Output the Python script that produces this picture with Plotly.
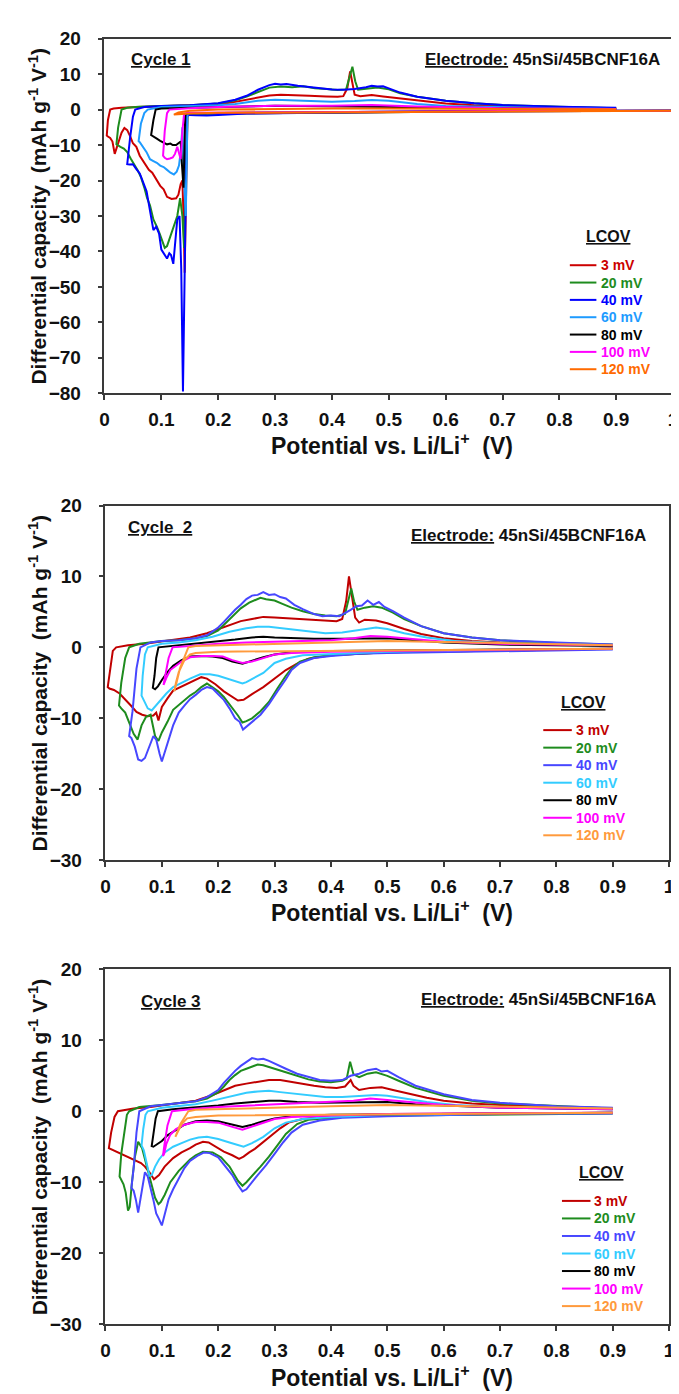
import plotly.graph_objects as go

W, H = 679, 1394

# ---------------- labels / styling lists ----------------
lcov_labels = ["3 mV", "20 mV", "40 mV", "60 mV", "80 mV", "100 mV", "120 mV"]
colors_c1 = ["#CC0000", "#1E8C1E", "#0000FF", "#1E9BFF", "#000000", "#FF00FF", "#FF6A00"]
colors_c23 = ["#C00000", "#1E8C1E", "#4747FF", "#33CCFF", "#000000", "#FF00FF", "#FF9A3C"]
x_tick_vals = [0, 0.1, 0.2, 0.3, 0.4, 0.5, 0.6, 0.7, 0.8, 0.9, 1.0]
x_tick_text = ["0", "0.1", "0.2", "0.3", "0.4", "0.5", "0.6", "0.7", "0.8", "0.9", "1"]
y_ticks_c1 = [-80, -70, -60, -50, -40, -30, -20, -10, 0, 10, 20]
y_ticks_c23 = [-30, -20, -10, 0, 10, 20]

# ---------------- Cycle 1 data (V, dQ/dV) ----------------
c1_3 = [(1.0,-0.3),(0.9,-0.3),(0.8,-0.4),(0.7,-0.5),(0.6,-0.6),(0.5,-0.7),(0.4,-0.8),(0.3,-0.9),(0.25,-1.0),(0.2,-1.1),(0.16,-1.2),
        (0.146,-1.3),(0.143,-32),(0.141,-46),(0.139,-30),(0.137,-20),(0.134,-21),(0.13,-24),(0.126,-25),(0.118,-25.2),(0.11,-24.6),
        (0.104,-22.5),(0.098,-21.5),(0.09,-19.4),(0.084,-17.8),(0.078,-17),(0.07,-14.8),(0.062,-13),(0.056,-10.5),(0.05,-9.5),
        (0.045,-7.5),(0.04,-5.8),(0.035,-5.2),(0.03,-6.5),(0.026,-8.5),(0.022,-10.8),(0.018,-12.5),(0.014,-9),(0.01,-8),(0.006,-7.6),(0.004,-7.3),
        (0.006,-3),(0.01,0),(0.016,0.3),(0.03,0.5),(0.06,0.7),(0.1,0.9),(0.15,1.1),(0.2,1.5),(0.22,1.9),(0.25,2.8),(0.27,3.5),(0.29,4.0),
        (0.31,4.2),(0.33,4.0),(0.36,3.9),(0.39,3.7),(0.41,3.6),(0.42,3.8),(0.427,6),(0.432,10.8),(0.436,7),(0.44,4.2),(0.45,3.8),(0.47,4.1),
        (0.49,3.7),(0.52,3.2),(0.55,2.5),(0.6,1.7),(0.65,1.2),(0.7,0.9),(0.8,0.5),(0.9,0.3)]
c1_20 = [(1.0,-0.3),(0.9,-0.3),(0.8,-0.4),(0.7,-0.5),(0.6,-0.6),(0.5,-0.7),(0.4,-0.8),(0.3,-0.9),(0.25,-1.0),(0.2,-1.1),(0.16,-1.2),
         (0.146,-1.2),(0.143,-20),(0.14,-39),(0.137,-30),(0.133,-25),(0.128,-30),(0.122,-33),(0.116,-36),(0.11,-38.5),(0.106,-39),
         (0.102,-37),(0.097,-35),(0.092,-33),(0.086,-31),(0.08,-27),(0.075,-25),(0.07,-22),(0.064,-19),(0.058,-17),(0.052,-15.5),
         (0.046,-13.8),(0.04,-12),(0.034,-11),(0.028,-10.5),(0.024,-10.2),(0.021,-9.8),
         (0.024,-5),(0.03,0),(0.04,0.5),(0.06,0.8),(0.1,1.0),(0.15,1.2),(0.2,1.7),(0.23,2.6),(0.25,3.7),(0.27,5.0),(0.29,6.2),(0.31,6.5),
         (0.33,6.3),(0.35,6.6),(0.37,6.0),(0.39,5.8),(0.41,5.5),(0.425,5.7),(0.431,9),(0.436,12.1),(0.441,8),(0.446,5.6),(0.46,5.9),
         (0.48,6.2),(0.5,5.7),(0.52,4.6),(0.55,3.6),(0.6,2.5),(0.65,1.8),(0.7,1.3),(0.8,0.8),(0.9,0.4)]
c1_40 = [(1.0,-0.3),(0.9,-0.3),(0.7,-0.5),(0.5,-0.7),(0.4,-0.8),(0.3,-0.9),(0.25,-1.1),(0.2,-1.5),(0.18,-1.7),(0.16,-1.6),(0.15,-1.5),
         (0.145,-1.8),(0.141,-40),(0.138,-79.5),(0.135,-45),(0.132,-30),(0.128,-31),(0.124,-38),(0.121,-43.5),(0.117,-41),(0.114,-40.5),
         (0.11,-42),(0.106,-41),(0.1,-39.5),(0.096,-35),(0.091,-33),(0.086,-34),(0.082,-30),(0.078,-27),(0.074,-23),(0.068,-20.5),
         (0.062,-18),(0.056,-16.8),(0.05,-15.4),(0.044,-15.5),(0.04,-15.4),
         (0.045,-8),(0.05,-2),(0.054,0),(0.07,0.7),(0.1,1.0),(0.15,1.2),(0.2,1.8),(0.23,2.8),(0.25,3.9),(0.27,5.6),(0.29,6.9),(0.3,7.3),
         (0.31,7.1),(0.32,7.2),(0.34,6.7),(0.36,6.3),(0.38,6.1),(0.4,5.7),(0.42,5.6),(0.44,5.8),(0.46,6.3),(0.47,6.7),(0.48,6.5),(0.49,6.6),
         (0.5,6.0),(0.52,4.8),(0.55,3.6),(0.6,2.5),(0.65,1.8),(0.7,1.3),(0.8,0.8),(0.9,0.5)]
c1_60 = [(1.0,-0.3),(0.9,-0.3),(0.7,-0.4),(0.5,-0.6),(0.3,-0.8),(0.2,-0.9),(0.16,-1.0),(0.146,-1.0),(0.143,-30),(0.14,-20),(0.137,-5),
         (0.134,-12),(0.131,-15.8),(0.127,-17.5),(0.122,-18.3),(0.116,-17.8),(0.11,-17),(0.104,-16.2),(0.098,-15.8),(0.092,-15),
         (0.086,-14.5),(0.08,-14),(0.074,-12),(0.068,-10.5),(0.062,-9.2),(0.06,-8.9),
         (0.064,-4),(0.07,-1),(0.076,0),(0.1,0.7),(0.15,0.9),(0.2,1.2),(0.23,1.6),(0.25,2.1),(0.27,2.5),(0.3,2.8),(0.33,2.6),(0.36,2.4),
         (0.4,2.2),(0.44,2.4),(0.47,2.7),(0.5,2.5),(0.55,1.6),(0.6,1.0),(0.7,0.6),(0.8,0.4),(0.9,0.2)]
c1_80 = [(1.0,-0.3),(0.9,-0.3),(0.7,-0.4),(0.5,-0.6),(0.3,-0.8),(0.2,-0.9),(0.16,-1.0),(0.146,-1.0),(0.142,-1.5),(0.139,-22),
         (0.136,-15),(0.134,-9),(0.13,-9.5),(0.126,-10),(0.12,-10),(0.116,-9.6),(0.11,-9.8),(0.104,-9.4),(0.098,-8.8),(0.092,-8.2),
         (0.086,-7.6),(0.082,-7.2),
         (0.086,-3),(0.09,0),(0.1,0.3),(0.15,0.5),(0.2,0.7),(0.25,0.9),(0.3,1.1),(0.35,1.0),(0.4,0.9),(0.45,1.0),(0.5,0.9),(0.6,0.5),
         (0.7,0.3),(0.9,0.1)]
c1_100 = [(1.0,-0.3),(0.9,-0.3),(0.7,-0.4),(0.5,-0.6),(0.3,-0.7),(0.2,-0.8),(0.16,-0.9),(0.146,-0.9),(0.14,-1.2),(0.137,-6),
          (0.134,-14),(0.131,-12),(0.128,-10.5),(0.124,-12.5),(0.12,-13.5),(0.115,-13.8),(0.11,-14),(0.106,-13.6),(0.103,-13),
          (0.106,-6),(0.11,-1),(0.114,0),(0.15,0.4),(0.2,0.7),(0.25,0.9),(0.3,1.1),(0.4,1.1),(0.47,1.3),(0.55,0.9),(0.7,0.4),(0.9,0.2)]
c1_120 = [(1.0,-0.3),(0.8,-0.4),(0.6,-0.5),(0.4,-0.6),(0.3,-0.7),(0.2,-0.9),(0.15,-1.1),(0.13,-1.3),(0.122,-1.4),
          (0.13,-0.8),(0.15,-0.3),(0.2,0),(0.3,0.2),(0.4,0.3),(0.5,0.3),(0.7,0.2),(0.9,0.1)]

# ---------------- Cycle 2 data ----------------
c2_3 = [(0.9,-0.2),(0.8,-0.3),(0.7,-0.4),(0.6,-0.5),(0.5,-0.7),(0.45,-0.9),(0.4,-1.1),(0.36,-1.6),(0.34,-2.3),(0.32,-3.2),(0.3,-4.4),
        (0.28,-5.6),(0.26,-6.6),(0.245,-7.4),(0.235,-7.5),(0.225,-7.0),(0.21,-6.2),(0.195,-5.2),(0.18,-4.4),(0.17,-4.2),(0.16,-4.6),
        (0.145,-5.2),(0.13,-5.8),(0.12,-6.1),(0.11,-7.2),(0.1,-8.4),(0.094,-10.3),(0.09,-9.2),(0.085,-9.6),(0.075,-9.7),(0.065,-9.5),
        (0.055,-9.1),(0.045,-8.2),(0.035,-7.3),(0.025,-6.5),(0.015,-6),(0.007,-5.8),(0.004,-5.6),
        (0.008,-3),(0.013,-0.5),(0.019,0),(0.04,0.3),(0.07,0.5),(0.1,0.8),(0.13,1.1),(0.15,1.4),(0.18,2.0),(0.2,2.6),(0.22,3.2),(0.24,3.7),
        (0.26,4.0),(0.28,4.3),(0.3,4.2),(0.32,4.1),(0.34,4.0),(0.37,3.8),(0.39,3.7),(0.41,3.7),(0.42,4.0),(0.427,6.5),(0.432,10.0),
        (0.437,7),(0.443,4.2),(0.45,3.5),(0.46,3.9),(0.48,3.8),(0.5,3.4),(0.53,2.6),(0.56,1.9),(0.6,1.3),(0.65,0.9),(0.7,0.7),(0.8,0.5),(0.9,0.3)]
c2_20 = [(0.9,-0.2),(0.8,-0.3),(0.7,-0.4),(0.6,-0.5),(0.5,-0.7),(0.45,-0.9),(0.4,-1.1),(0.37,-1.4),(0.345,-2.0),(0.33,-3.0),(0.32,-4.0),
         (0.305,-5.8),(0.29,-7.7),(0.275,-9.0),(0.26,-10.0),(0.25,-10.4),(0.243,-10.6),(0.235,-9.6),(0.225,-8.6),(0.21,-7.0),(0.2,-6.2),
         (0.19,-5.6),(0.18,-5.1),(0.17,-5.6),(0.16,-6.3),(0.15,-6.8),(0.135,-7.8),(0.12,-8.8),(0.11,-10.5),(0.1,-12),(0.094,-13.2),
         (0.088,-12.5),(0.08,-9.5),(0.072,-9.8),(0.064,-11),(0.057,-13),(0.05,-12.2),(0.042,-10.5),(0.035,-9.2),(0.028,-8.6),(0.024,-8.2),
         (0.028,-5),(0.035,-1.5),(0.042,0),(0.06,0.5),(0.1,0.9),(0.13,1.0),(0.16,1.3),(0.18,1.6),(0.2,2.4),(0.21,3.2),(0.22,4.0),(0.23,4.8),
         (0.24,5.5),(0.255,6.3),(0.265,6.7),(0.275,7.0),(0.285,6.8),(0.3,6.6),(0.315,6.1),(0.33,5.6),(0.35,5.1),(0.37,4.7),(0.39,4.5),
         (0.41,4.4),(0.425,4.7),(0.431,6.5),(0.436,8.3),(0.441,6.5),(0.447,5.3),(0.46,5.6),(0.475,5.8),(0.49,5.6),(0.51,4.9),(0.53,4.0),
         (0.56,3.0),(0.6,2.0),(0.65,1.4),(0.7,1.0),(0.8,0.6),(0.9,0.4)]
c2_40 = [(0.9,-0.3),(0.8,-0.4),(0.7,-0.5),(0.6,-0.6),(0.5,-0.8),(0.45,-0.9),(0.4,-1.2),(0.37,-1.5),(0.345,-2.2),(0.33,-3.2),(0.32,-4.5),
         (0.305,-6.2),(0.29,-8.0),(0.275,-9.5),(0.26,-10.5),(0.25,-11.2),(0.244,-11.6),(0.238,-10.5),(0.23,-10.0),(0.22,-8.6),(0.21,-7.4),
         (0.2,-6.6),(0.19,-5.8),(0.18,-5.6),(0.17,-6.0),(0.16,-6.7),(0.15,-7.3),(0.14,-8.2),(0.13,-9.2),(0.12,-11),(0.11,-13.5),
         (0.104,-15),(0.1,-16.1),(0.096,-15),(0.09,-13),(0.085,-12.5),(0.078,-14),(0.07,-15.6),(0.064,-16),(0.058,-15.8),(0.052,-14),
         (0.046,-12.8),(0.042,-12.5),
         (0.048,-9),(0.055,-3),(0.062,0),(0.08,0.7),(0.1,0.9),(0.13,1.0),(0.16,1.3),(0.18,1.7),(0.2,2.8),(0.21,3.6),(0.22,4.5),(0.23,5.3),
         (0.24,6.0),(0.25,6.8),(0.26,7.3),(0.27,7.4),(0.28,7.8),(0.29,7.4),(0.3,7.5),(0.31,7.1),(0.32,6.9),(0.335,6.0),(0.35,5.4),(0.37,4.7),
         (0.385,4.4),(0.4,4.5),(0.415,4.4),(0.425,4.8),(0.435,5.3),(0.445,5.8),(0.455,5.9),(0.465,6.6),(0.475,6.0),(0.485,6.4),(0.495,5.7),
         (0.51,5.1),(0.53,4.2),(0.56,3.0),(0.6,2.0),(0.65,1.4),(0.7,1.0),(0.8,0.7),(0.9,0.4)]
c2_60 = [(0.9,-0.2),(0.7,-0.3),(0.5,-0.6),(0.4,-0.9),(0.35,-1.1),(0.32,-1.6),(0.3,-2.2),(0.28,-3.6),(0.265,-4.3),(0.25,-4.9),(0.243,-5.1),
         (0.23,-4.8),(0.215,-4.4),(0.2,-4.0),(0.185,-3.8),(0.168,-3.8),(0.15,-4.4),(0.135,-5.0),(0.12,-5.6),(0.108,-6.5),(0.098,-7.4),
         (0.09,-8.2),(0.082,-8.9),(0.075,-8.6),(0.068,-7.4),(0.064,-6.8),
         (0.066,-4),(0.07,-1),(0.075,0),(0.1,0.5),(0.13,0.7),(0.16,1.0),(0.19,1.5),(0.22,2.2),(0.25,2.7),(0.27,2.9),(0.29,2.9),(0.31,2.7),
         (0.33,2.5),(0.36,2.2),(0.39,2.0),(0.42,2.1),(0.45,2.4),(0.48,2.8),(0.5,2.6),(0.53,2.0),(0.57,1.4),(0.62,0.9),(0.7,0.6),(0.8,0.4),(0.9,0.3)]
c2_80 = [(0.9,-0.2),(0.7,-0.3),(0.5,-0.4),(0.4,-0.5),(0.33,-0.7),(0.3,-1.0),(0.28,-1.4),(0.26,-1.9),(0.243,-2.3),(0.225,-2.0),(0.208,-1.5),
         (0.19,-1.3),(0.17,-1.2),(0.15,-1.3),(0.135,-1.8),(0.12,-2.6),(0.11,-3.5),(0.1,-4.6),(0.093,-5.5),(0.088,-5.9),(0.084,-5.7),
         (0.087,-4),(0.09,-1.5),(0.094,0),(0.12,0.2),(0.15,0.4),(0.2,0.8),(0.23,1.1),(0.26,1.4),(0.28,1.5),(0.3,1.4),(0.33,1.3),(0.37,1.2),
         (0.42,1.2),(0.46,1.3),(0.5,1.3),(0.55,1.0),(0.6,0.7),(0.7,0.4),(0.9,0.2)]
c2_100 = [(0.9,-0.2),(0.7,-0.3),(0.5,-0.5),(0.4,-0.6),(0.33,-0.8),(0.3,-1.0),(0.28,-1.5),(0.26,-2.0),(0.243,-2.2),(0.225,-1.8),(0.208,-1.3),
          (0.19,-1.2),(0.17,-1.2),(0.15,-1.4),(0.135,-2.0),(0.125,-2.6),(0.115,-3.2),(0.108,-4.3),(0.103,-5.3),
          (0.106,-4),(0.112,-1.5),(0.119,0),(0.15,0.2),(0.2,0.5),(0.25,0.7),(0.3,0.8),(0.35,0.8),(0.4,1.0),(0.44,1.3),(0.47,1.6),(0.5,1.5),
          (0.55,1.1),(0.6,0.8),(0.7,0.5),(0.9,0.3)]
c2_120 = [(0.9,-0.2),(0.7,-0.3),(0.5,-0.4),(0.3,-0.5),(0.2,-0.6),(0.16,-0.8),(0.15,-1.0),(0.14,-1.8),(0.13,-3.5),(0.125,-5.0),(0.122,-6.2),
          (0.126,-5),(0.132,-3),(0.14,-1.3),(0.147,0),(0.16,0.2),(0.2,0.3),(0.3,0.5),(0.4,0.7),(0.5,0.9),(0.6,0.8),(0.7,0.6),(0.9,0.3)]

# ---------------- Cycle 3 data ----------------
c3_3 = [(0.9,-0.2),(0.7,-0.3),(0.5,-0.4),(0.42,-0.6),(0.38,-0.8),(0.35,-1.1),(0.325,-1.6),(0.31,-2.4),(0.295,-3.4),(0.28,-4.4),(0.265,-5.3),
        (0.255,-5.8),(0.245,-6.4),(0.237,-6.7),(0.225,-6.2),(0.21,-5.7),(0.195,-5.0),(0.183,-4.4),(0.173,-4.3),(0.16,-4.7),(0.15,-5.2),
        (0.135,-5.8),(0.12,-6.6),(0.105,-7.8),(0.095,-9.0),(0.086,-9.6),(0.078,-8.6),(0.07,-7.8),(0.063,-7.3),(0.05,-6.8),(0.035,-6.2),
        (0.022,-5.7),(0.012,-5.4),(0.006,-5.2),
        (0.01,-3),(0.016,-0.8),(0.022,0),(0.05,0.4),(0.08,0.6),(0.1,0.8),(0.13,1.1),(0.16,1.5),(0.19,2.3),(0.21,3.0),(0.23,3.6),(0.25,3.9),
        (0.27,4.2),(0.29,4.4),(0.31,4.4),(0.33,4.1),(0.35,3.9),(0.37,3.6),(0.39,3.4),(0.41,3.3),(0.425,3.5),(0.43,3.9),(0.435,4.4),(0.44,3.6),
        (0.45,3.0),(0.47,3.3),(0.49,3.4),(0.51,3.0),(0.54,2.4),(0.57,1.9),(0.6,1.5),(0.65,1.1),(0.7,0.9),(0.8,0.6),(0.9,0.4)]
c3_20 = [(0.9,-0.3),(0.7,-0.4),(0.5,-0.6),(0.42,-0.8),(0.38,-1.0),(0.36,-1.2),(0.34,-1.8),(0.32,-3.2),(0.305,-4.8),(0.29,-6.4),(0.275,-7.8),
         (0.26,-9.2),(0.25,-10.0),(0.243,-10.5),(0.235,-9.8),(0.22,-7.8),(0.205,-6.5),(0.19,-5.8),(0.173,-5.7),(0.16,-6.2),(0.15,-6.8),
         (0.13,-8.4),(0.115,-10.0),(0.105,-11.8),(0.098,-12.8),(0.094,-13.1),(0.088,-12.2),(0.08,-9.8),(0.072,-7.2),(0.065,-5.2),
         (0.058,-4.3),(0.052,-6.5),(0.047,-10),(0.043,-13.5),(0.04,-14),(0.036,-11.5),(0.032,-10.3),(0.028,-9.6),(0.025,-9.2),
         (0.028,-6),(0.033,-3),(0.038,-0.5),(0.042,0),(0.06,0.6),(0.1,0.9),(0.13,1.1),(0.16,1.4),(0.18,1.8),(0.2,2.7),(0.21,3.5),(0.22,4.4),
         (0.23,5.1),(0.24,5.7),(0.25,6.0),(0.26,6.3),(0.27,6.6),(0.28,6.5),(0.29,6.2),(0.3,6.0),(0.32,5.5),(0.34,5.0),(0.36,4.5),(0.38,4.2),
         (0.4,4.1),(0.42,4.3),(0.428,4.6),(0.434,7.0),(0.44,5.2),(0.45,4.8),(0.465,5.3),(0.48,5.5),(0.5,5.0),(0.52,4.3),(0.55,3.3),(0.6,2.2),
         (0.65,1.5),(0.7,1.1),(0.8,0.7),(0.9,0.4)]
c3_40 = [(0.9,-0.3),(0.7,-0.4),(0.5,-0.7),(0.42,-0.9),(0.38,-1.3),(0.35,-1.9),(0.33,-3.0),(0.315,-4.4),(0.3,-6.0),(0.285,-7.6),(0.27,-9.0),
         (0.26,-10.0),(0.25,-11.0),(0.243,-11.3),(0.235,-10.4),(0.225,-9.0),(0.21,-7.4),(0.2,-6.5),(0.185,-5.9),(0.175,-5.8),(0.165,-6.2),
         (0.15,-7.0),(0.14,-8.0),(0.13,-9.4),(0.12,-11),(0.112,-12.4),(0.105,-14.5),(0.1,-16.1),(0.095,-15.2),(0.09,-14.4),(0.085,-12.5),
         (0.08,-10.8),(0.075,-9.2),(0.07,-8.6),(0.066,-10.5),(0.062,-13),(0.058,-14.3),(0.054,-12.5),(0.05,-11.2),(0.046,-10.8),
         (0.05,-8),(0.055,-3),(0.06,0),(0.08,0.7),(0.1,0.9),(0.13,1.1),(0.16,1.4),(0.18,2.0),(0.2,3.0),(0.21,4.0),(0.22,4.9),(0.23,5.7),
         (0.24,6.4),(0.25,7.0),(0.26,7.5),(0.27,7.3),(0.28,7.4),(0.29,7.1),(0.3,6.7),(0.32,6.0),(0.34,5.3),(0.36,4.8),(0.38,4.4),(0.4,4.3),
         (0.42,4.4),(0.435,5.0),(0.45,5.3),(0.465,5.8),(0.48,6.0),(0.49,5.6),(0.5,5.7),(0.52,4.8),(0.55,3.6),(0.6,2.4),(0.65,1.6),(0.7,1.2),
         (0.8,0.7),(0.9,0.5)]
c3_60 = [(0.9,-0.2),(0.7,-0.3),(0.5,-0.5),(0.4,-0.8),(0.35,-1.1),(0.32,-1.6),(0.3,-2.4),(0.28,-3.6),(0.26,-4.5),(0.245,-5.0),(0.235,-4.8),
         (0.22,-4.4),(0.2,-3.9),(0.18,-3.6),(0.165,-3.7),(0.15,-4.0),(0.135,-4.5),(0.12,-5.0),(0.105,-5.8),(0.095,-6.8),(0.088,-7.8),
         (0.082,-9.0),(0.078,-9.1),(0.073,-7.5),(0.068,-5.5),(0.064,-4.8),
         (0.067,-2.5),(0.071,-0.5),(0.075,0),(0.1,0.5),(0.13,0.7),(0.16,1.0),(0.19,1.5),(0.22,2.1),(0.25,2.6),(0.27,2.8),(0.29,2.9),(0.31,2.7),
         (0.33,2.5),(0.36,2.2),(0.39,2.0),(0.42,2.0),(0.45,2.1),(0.48,2.3),(0.5,2.2),(0.53,1.8),(0.57,1.3),(0.62,0.9),(0.7,0.6),(0.8,0.4),(0.9,0.3)]
c3_80 = [(0.9,-0.2),(0.7,-0.3),(0.5,-0.4),(0.4,-0.5),(0.33,-0.7),(0.3,-1.0),(0.28,-1.4),(0.26,-1.9),(0.243,-2.2),(0.225,-1.9),(0.2,-1.4),
         (0.18,-1.3),(0.16,-1.4),(0.14,-1.9),(0.125,-2.6),(0.11,-3.4),(0.1,-4.2),(0.09,-4.8),(0.085,-5.0),(0.082,-4.9),
         (0.085,-3),(0.089,-1),(0.093,0),(0.12,0.3),(0.15,0.5),(0.2,0.8),(0.23,1.1),(0.26,1.3),(0.29,1.5),(0.31,1.5),(0.34,1.3),(0.38,1.2),
         (0.42,1.2),(0.46,1.3),(0.5,1.3),(0.55,1.0),(0.6,0.8),(0.7,0.5),(0.9,0.3)]
c3_100 = [(0.9,-0.2),(0.7,-0.3),(0.5,-0.4),(0.4,-0.6),(0.33,-0.8),(0.3,-1.1),(0.28,-1.6),(0.26,-2.2),(0.243,-2.6),(0.225,-2.2),(0.2,-1.6),
          (0.18,-1.5),(0.16,-1.5),(0.14,-1.9),(0.125,-2.5),(0.115,-3.3),(0.108,-4.6),(0.104,-6.0),(0.102,-6.3),
          (0.105,-4.5),(0.11,-2),(0.118,0),(0.15,0.3),(0.2,0.6),(0.25,0.8),(0.3,1.0),(0.35,1.1),(0.4,1.3),(0.44,1.5),(0.47,1.8),(0.5,1.6),
          (0.55,1.2),(0.6,0.9),(0.7,0.5),(0.9,0.3)]
c3_120 = [(0.9,-0.2),(0.7,-0.3),(0.5,-0.4),(0.3,-0.5),(0.2,-0.6),(0.16,-0.8),(0.145,-1.0),(0.135,-1.8),(0.128,-3.0),(0.124,-3.6),
          (0.127,-3),(0.133,-1.8),(0.14,-0.8),(0.147,0),(0.16,0.2),(0.2,0.3),(0.3,0.5),(0.4,0.7),(0.5,0.9),(0.6,0.8),(0.7,0.6),(0.9,0.4)]

cycle1 = [c1_3, c1_20, c1_40, c1_60, c1_80, c1_100, c1_120]
cycle2 = [c2_3, c2_20, c2_40, c2_60, c2_80, c2_100, c2_120]
cycle3 = [c3_3, c3_20, c3_40, c3_60, c3_80, c3_100, c3_120]

# ---------------- layout helpers (pixel -> paper) ----------------
def xp(px):
    return px / W

def yp(py):
    return 1 - py / H

FONT = "Arial, Liberation Sans, sans-serif"

panels = [
    dict(curves=cycle1, colors=colors_c1, xs="x", ys="y", xd=(93, 671), yd=(21, 381), yr=[-80, 20], yt=y_ticks_c1,
         cycle="<u>Cycle 1</u>", cyc_pos=(118, 42), elec_pos=(417, 42),
         leg_title=(605, 222), leg_y0=251, leg_dy=17.6, leg_line=(566, 593), leg_text=596,
         ytitle_y=201, xtitle_y=433),
    dict(curves=cycle2, colors=colors_c23, xs="x2", ys="y2", xd=(94, 667), yd=(495, 855), yr=[-30, 20], yt=y_ticks_c23,
         cycle="<u>Cycle&nbsp; 2</u>", cyc_pos=(115, 517), elec_pos=(403, 525),
         leg_title=(580, 695), leg_y0=723, leg_dy=17.8, leg_line=(539, 568), leg_text=570,
         ytitle_y=675, xtitle_y=907),
    dict(curves=cycle3, colors=colors_c23, xs="x3", ys="y3", xd=(94, 667), yd=(966, 1326), yr=[-30, 20], yt=y_ticks_c23,
         cycle="<u>Cycle 3</u>", cyc_pos=(128, 999), elec_pos=(413, 997),
         leg_title=(598, 1172), leg_y0=1201, leg_dy=17.8, leg_line=(558, 587), leg_text=589,
         ytitle_y=1146, xtitle_y=1379),
]

fig = go.Figure()
annotations = []
shapes = []
layout_axes = {}

for k, p in enumerate(panels):
    for i, curve in enumerate(p["curves"]):
        fig.add_trace(go.Scatter(
            x=[pt[0] for pt in curve], y=[pt[1] for pt in curve],
            mode="lines", line=dict(color=p["colors"][i], width=2),
            xaxis=p["xs"], yaxis=p["ys"], showlegend=False, hoverinfo="skip"))

    suffix = "" if k == 0 else str(k + 1)
    axis_common = dict(showgrid=False, zeroline=False, showline=True, linecolor="#3a3a3a", linewidth=1.5,
                       mirror=True, ticks="outside", ticklen=5, tickwidth=1.5, tickcolor="#3a3a3a",
                       ticklabeloverflow="allow",
                       tickfont=dict(family=FONT, size=19, color="#111111", weight="bold"))
    layout_axes["xaxis" + suffix] = dict(axis_common, domain=[xp(p["xd"][0]), xp(p["xd"][1])], range=[0, 1.0001],
                                         tickvals=x_tick_vals, ticktext=x_tick_text, anchor="y" + suffix,
                                         ticklabelstandoff=3)
    layout_axes["yaxis" + suffix] = dict(axis_common, domain=[yp(p["yd"][1]), yp(p["yd"][0])], range=p["yr"],
                                         tickvals=p["yt"], anchor="x" + suffix, ticklabelstandoff=13)

    # panel texts
    annotations.append(dict(text=p["cycle"], x=xp(p["cyc_pos"][0]), y=yp(p["cyc_pos"][1]), xref="paper", yref="paper",
                            xanchor="left", yanchor="middle", showarrow=False,
                            font=dict(family=FONT, size=17, color="#111111", weight="bold")))
    annotations.append(dict(text="<u>Electrode:</u> 45nSi/45BCNF16A", x=xp(p["elec_pos"][0]), y=yp(p["elec_pos"][1]),
                            xref="paper", yref="paper", xanchor="left", yanchor="middle", showarrow=False,
                            font=dict(family=FONT, size=17, color="#111111", weight="bold")))
    annotations.append(dict(text="Differential capacity&nbsp; (mAh g<sup>-1</sup> V<sup>-1</sup>)", textangle=-90,
                            x=xp(25), y=yp(p["ytitle_y"]), xref="paper", yref="paper", xanchor="center", yanchor="middle",
                            showarrow=False, font=dict(family=FONT, size=21, color="#111111", weight="bold")))
    annotations.append(dict(text="Potential vs. Li/Li<sup>+</sup>&nbsp; (V)", x=xp(385), y=yp(p["xtitle_y"]),
                            xref="paper", yref="paper", xanchor="center", yanchor="middle", showarrow=False,
                            font=dict(family=FONT, size=23, color="#111111", weight="bold")))
    # LCOV key
    annotations.append(dict(text="<u>LCOV</u>", x=xp(p["leg_title"][0]), y=yp(p["leg_title"][1]), xref="paper", yref="paper",
                            xanchor="center", yanchor="middle", showarrow=False,
                            font=dict(family=FONT, size=16, color="#111111", weight="bold")))
    for i, lab in enumerate(lcov_labels):
        ypx = p["leg_y0"] + i * p["leg_dy"]
        shapes.append(dict(type="line", xref="paper", yref="paper", x0=xp(p["leg_line"][0]), x1=xp(p["leg_line"][1]),
                           y0=yp(ypx), y1=yp(ypx), line=dict(color=p["colors"][i], width=2)))
        annotations.append(dict(text=lab, x=xp(p["leg_text"]), y=yp(ypx), xref="paper", yref="paper",
                                xanchor="left", yanchor="middle", showarrow=False,
                                font=dict(family=FONT, size=14, color=p["colors"][i], weight="bold")))

fig.update_layout(
    width=W, height=H, margin=dict(l=0, r=0, t=0, b=0),
    paper_bgcolor="white", plot_bgcolor="white", showlegend=False,
    annotations=annotations, shapes=shapes, **layout_axes)

fig.write_html("out.html")
